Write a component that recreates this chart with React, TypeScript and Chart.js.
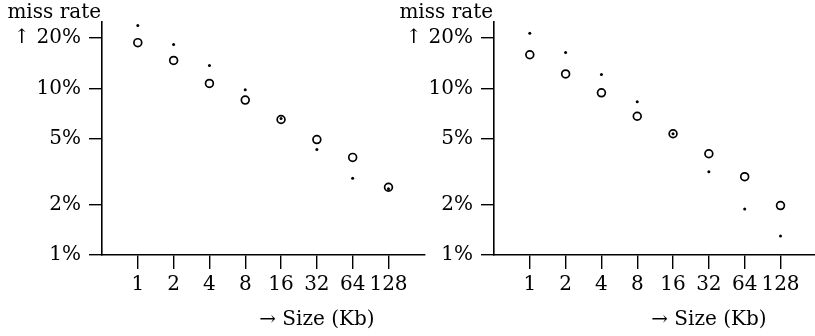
import React, { useEffect, useRef } from "react";
import { Chart, registerables } from "chart.js";

Chart.register(...registerables);

// ---- data ----
const sizes = ["1", "2", "4", "8", "16", "32", "64", "128"];
const leftCircles = [18.8, 14.7, 10.7, 8.5, 6.5, 4.93, 3.85, 2.55];
const leftDots = [23.8, 18.3, 13.7, 9.8, 6.6, 4.3, 2.89, 2.5];
const rightCircles = [15.9, 12.2, 9.4, 6.8, 5.34, 4.05, 2.95, 1.98];
const rightDots = [21.4, 16.4, 12.1, 8.3, 5.34, 3.16, 1.89, 1.3];
const yTickValues = [1, 2, 5, 10, 20];
const yTickLabels = ["1%", "2%", "5%", "10%", "↑ 20%"];
const yTitle = "miss rate";
const xTitle = "→ Size (Kb)";

const FAMILY = "'DejaVu Serif'";
const FONT_SIZE = 20;
const INK = "#000";

const titlePlugin = {
  id: "panelTitles",
  afterDraw(chart: any) {
    const { ctx, chartArea, scales } = chart;
    ctx.save();
    ctx.font = `${FONT_SIZE}px ${FAMILY}`;
    ctx.fillStyle = INK;
    ctx.textAlign = "right";
    ctx.textBaseline = "alphabetic";
    ctx.fillText(yTitle, chartArea.left - 1, 18);
    ctx.textAlign = "center";
    ctx.textBaseline = "middle";
    ctx.fillText(xTitle, scales.x.getPixelForValue(5), 320);
    ctx.restore();
  },
};

function makeConfig(circles: number[], dots: number[]): any {
  const font = { family: FAMILY, size: FONT_SIZE };
  return {
    type: "scatter",
    data: {
      datasets: [
        {
          label: "circles",
          data: circles.map((y, i) => ({ x: i, y })),
          pointStyle: "circle",
          pointRadius: 3.9,
          borderWidth: 1.7,
          borderColor: INK,
          backgroundColor: "rgba(0,0,0,0)",
          order: 2,
        },
        {
          label: "dots",
          data: dots.map((y, i) => ({ x: i, y })),
          pointStyle: "circle",
          pointRadius: 1.5,
          borderWidth: 0,
          borderColor: INK,
          backgroundColor: INK,
          order: 1,
        },
      ],
    },
    options: {
      responsive: false,
      animation: false,
      events: [],
      layout: { padding: { top: 22, left: 0, right: 3, bottom: 0 } },
      plugins: { legend: { display: false }, tooltip: { enabled: false }, title: { display: false } },
      scales: {
        x: {
          type: "linear",
          position: "bottom",
          min: -1,
          max: 8,
          afterBuildTicks: (s: any) => {
            s.ticks = sizes.map((_, i) => ({ value: i }));
          },
          afterFit: (s: any) => {
            s.height = 81;
          },
          ticks: {
            callback: (v: any) => sizes[v] ?? "",
            font,
            color: INK,
            padding: 4,
            maxRotation: 0,
            autoSkip: false,
          },
          grid: {
            display: true,
            drawOnChartArea: false,
            drawTicks: true,
            tickLength: 14,
            color: INK,
            lineWidth: 1.4,
          },
          border: { display: true, color: INK, width: 1.6 },
        },
        y: {
          type: "logarithmic",
          min: 1,
          max: 25,
          afterBuildTicks: (s: any) => {
            s.ticks = yTickValues.map((v) => ({ value: v }));
          },
          afterFit: (s: any) => {
            s.width = 102;
          },
          ticks: {
            callback: (v: any) => {
              const k = yTickValues.indexOf(Number(v));
              return k >= 0 ? yTickLabels[k] : "";
            },
            font,
            color: INK,
            padding: 8,
            autoSkip: false,
          },
          grid: {
            display: true,
            drawOnChartArea: false,
            drawTicks: true,
            tickLength: 13,
            color: INK,
            lineWidth: 1.4,
          },
          border: { display: true, color: INK, width: 1.6 },
        },
      },
    },
    plugins: [titlePlugin],
  };
}

function Panel({ circles, dots, left }: { circles: number[]; dots: number[]; left: number }) {
  const ref = useRef<HTMLCanvasElement | null>(null);
  useEffect(() => {
    if (!ref.current) return;
    const chart = new Chart(ref.current, makeConfig(circles, dots));
    return () => chart.destroy();
  }, [circles, dots]);
  return (
    <canvas
      ref={ref}
      width={430}
      height={336}
      style={{ position: "absolute", left, top: 0, width: 430, height: 336 }}
    />
  );
}

export default function App() {
  return (
    <div
      style={{
        position: "fixed",
        left: 0,
        top: 0,
        width: 815,
        height: 336,
        overflow: "hidden",
        background: "#fff",
      }}
    >
      <Panel circles={leftCircles} dots={leftDots} left={0} />
      <Panel circles={rightCircles} dots={rightDots} left={392} />
    </div>
  );
}
